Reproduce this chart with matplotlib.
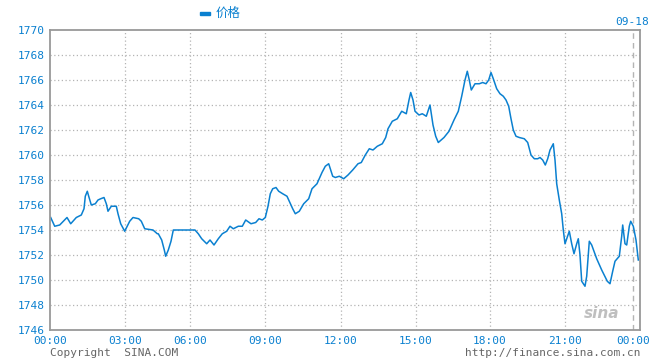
import matplotlib
matplotlib.use('Agg')
import matplotlib.pyplot as plt
from matplotlib.patches import Rectangle

# position along the (gap-compressed) time axis, and price
t_pos = [0.7, 4.7, 9.7, 17, 20.7, 26.3, 31.3, 34, 35.3, 37.3, 38.7, 41.3, 45.3, 48, 50.7, 54,
         56.3, 58, 61.3, 66.3, 68, 70.7, 74.7, 79.7, 83, 88.7, 91.3, 94.7, 103, 107.3,
         108.3, 111.7, 114.3, 115.7, 118.3, 121, 123.3, 145, 148.3, 151.7, 156.7, 160, 164,
         168.3, 172.3, 176.7, 180, 183.3, 188.3, 192.3, 195.7, 201, 205.7, 209, 212.3, 215.3,
         218, 220.3, 222.7, 226, 228.7, 232.7, 237, 239.3, 242.7, 245.3, 249.3, 253.7, 258.7,
         262, 267, 272, 275.3, 278.7, 282.7, 285.3, 289.3, 293.7, 298, 302.7, 308, 311.3,
         315.3, 319.3, 323, 327.3, 332.3, 335.7, 338, 342.3, 347.3, 351.7, 356.3, 359, 360.7,
         363, 365, 369, 372.3, 376.3, 380, 383, 385.7, 388.3, 394, 399, 404, 408.3, 411.7,
         415, 417.3, 419, 421.3, 425, 429.3, 432.7, 436, 438.7, 441, 443.3, 446.7, 450, 453.3,
         456, 458.7, 461, 463.3, 466, 469.3, 474.3, 477.7, 481, 484.3, 487.7, 490, 492.7,
         495.3, 497.7, 500, 503.3, 505, 506.7, 509.3, 511.7, 513.3, 515, 516.7, 519.3, 521.7,
         524, 526.7, 528.3, 530, 531.7, 535, 536.7, 539.3, 541.7, 546.7, 551.7, 557.3, 560,
         562.7, 565, 569.3, 571.7, 572.7, 575, 576.7, 579.3, 580.7, 583.3, 586, 588.3]
price = [1755.0, 1754.3, 1754.4, 1755.0, 1754.5, 1755.0, 1755.2, 1755.7, 1756.7, 1757.1,
         1756.7, 1756.0, 1756.1, 1756.4, 1756.5, 1756.6, 1756.1, 1755.5, 1755.9, 1755.9,
         1755.3, 1754.5, 1753.9, 1754.7, 1755.0, 1754.9, 1754.7, 1754.1, 1754.0, 1753.7,
         1753.7, 1753.2, 1752.4, 1751.9, 1752.4, 1753.1, 1754.0, 1754.0, 1753.7, 1753.3,
         1752.9, 1753.2, 1752.8, 1753.3, 1753.7, 1753.9, 1754.3, 1754.1, 1754.3, 1754.3,
         1754.8, 1754.5, 1754.6, 1754.9, 1754.8, 1755.0, 1755.9, 1756.9, 1757.3, 1757.4,
         1757.1, 1756.9, 1756.7, 1756.3, 1755.7, 1755.3, 1755.5, 1756.1, 1756.5, 1757.3,
         1757.7, 1758.6, 1759.1, 1759.3, 1758.3, 1758.2, 1758.3, 1758.1, 1758.4, 1758.8,
         1759.3, 1759.4, 1760.0, 1760.5, 1760.4, 1760.7, 1760.9, 1761.4, 1762.1, 1762.7,
         1762.9, 1763.5, 1763.3, 1764.4, 1765.0, 1764.4, 1763.5, 1763.2, 1763.3, 1763.1,
         1764.0, 1762.4, 1761.5, 1761.0, 1761.4, 1761.9, 1762.8, 1763.5, 1764.7, 1766.0,
         1766.7, 1766.1, 1765.2, 1765.7, 1765.7, 1765.8, 1765.7, 1766.0, 1766.6, 1766.1,
         1765.3, 1764.9, 1764.7, 1764.4, 1763.9, 1762.9, 1762.0, 1761.5, 1761.4, 1761.3,
         1761.0, 1760.0, 1759.7, 1759.7, 1759.8, 1759.6, 1759.2, 1759.7, 1760.4, 1760.9,
         1759.6, 1757.7, 1756.4, 1755.3, 1754.0, 1752.9, 1753.3, 1753.9, 1752.9, 1752.1,
         1752.9, 1753.3, 1752.0, 1749.9, 1749.5, 1750.3, 1753.1, 1752.8, 1751.7, 1750.8,
         1749.9, 1749.7, 1750.7, 1751.5, 1751.9, 1753.5, 1754.4, 1752.9, 1752.8, 1754.3,
         1754.7, 1754.3, 1753.2, 1751.6]

tick_pos = [0, 75, 140, 215, 291, 366, 440, 515, 583]
tick_labels = ['00:00', '03:00', '06:00', '09:00', '12:00', '15:00', '18:00', '21:00', '00:00']
y_ticks = list(range(1746, 1771, 2))

blue = '#0a80d0'
grid_c = '#b4b4b4'

fig = plt.figure(figsize=(6.6, 3.6), dpi=100)
ax = fig.add_axes([50 / 660, 30 / 360, 590 / 660, 300 / 360])

ax.plot(t_pos, price, color=blue, lw=1.1)
ax.set_xlim(0, 590)
ax.set_ylim(1746, 1770)

ax.set_yticks(y_ticks)
ax.set_xticks(tick_pos)
ax.set_xticklabels(tick_labels)
ax.tick_params(length=0, colors=blue, labelsize=8, pad=4)
for lab in ax.get_xticklabels() + ax.get_yticklabels():
    lab.set_family('DejaVu Sans Mono')

for y in y_ticks[1:-1]:
    ax.axhline(y, color=grid_c, lw=0.9, ls=(0, (1, 2)), zorder=0)
for x in tick_pos[1:-1]:
    ax.axvline(x, color=grid_c, lw=0.9, ls=(0, (1, 2)), zorder=0)
ax.axvline(tick_pos[-1], color=grid_c, lw=1, ls=(0, (4, 3)), zorder=0)

for s in ax.spines.values():
    s.set_color('#999999')
    s.set_linewidth(1.3)

# legend marker and label
fig.patches.append(Rectangle((200 / 660, 1 - 15 / 360), 10 / 660, 3 / 360,
                             transform=fig.transFigure, color=blue, figure=fig))
fig.text(216 / 660, 1 - 13 / 360, '价格', color=blue, fontsize=9, va='center', ha='left',
         family=['Noto Sans CJK SC', 'DejaVu Sans'])
fig.text(649 / 660, 1 - 22 / 360, '09-18', color=blue, fontsize=8, va='center', ha='right',
         family='DejaVu Sans Mono')

fig.text(50 / 660, 1 - 353 / 360, 'Copyright  SINA.COM', color='#666666', fontsize=8,
         va='center', ha='left', family='DejaVu Sans Mono')
fig.text(640 / 660, 1 - 353 / 360, 'http://finance.sina.com.cn', color='#666666', fontsize=8,
         va='center', ha='right', family='DejaVu Sans Mono')

# watermark
ax.text(0.965, 0.03, 'sina', transform=ax.transAxes, color='#b0b0b0', fontsize=11,
        fontweight='bold', style='italic', ha='right', va='bottom', alpha=0.8)

fig.savefig('out.png', dpi=100)
